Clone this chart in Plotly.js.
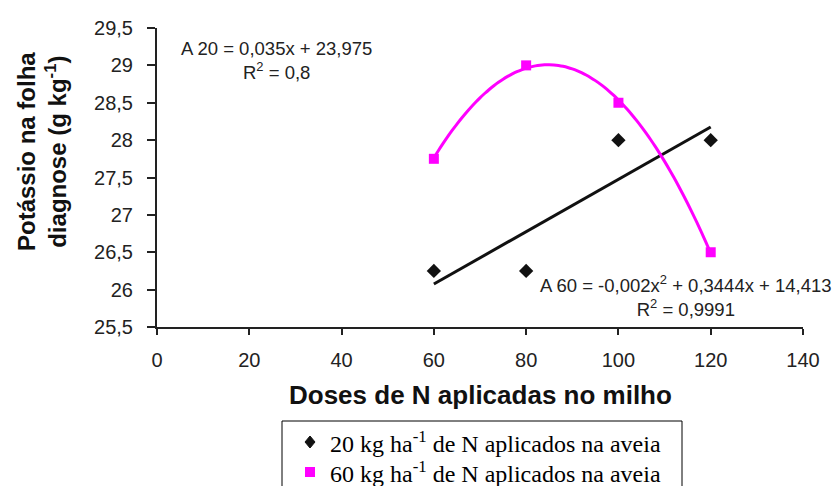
<!DOCTYPE html>
<html>
<head>
<meta charset="utf-8">
<script src="https://cdn.plot.ly/plotly-3.0.1.min.js"></script>
<style>
  html, body { margin: 0; padding: 0; background: #fff; }
  #chart { width: 836px; height: 486px; }
</style>
</head>
<body>
<div id="chart"></div>
<script>
// Doses of N applied to the maize (kg/ha) and leaf potassium (g/kg)
const doses = [60, 80, 100, 120];
const potassio20 = [26.25, 26.25, 28, 28];
const potassio60 = [27.75, 29, 28.5, 26.5];

const xTickVals = [0, 20, 40, 60, 80, 100, 120, 140];
const xTickText = ['0', '20', '40', '60', '80', '100', '120', '140'];
const yTickVals = [25.5, 26, 26.5, 27, 27.5, 28, 28.5, 29, 29.5];
const yTickText = ['25,5', '26', '26,5', '27', '27,5', '28', '28,5', '29', '29,5'];

const legend20 = '20 kg ha<sup>-1</sup> de N aplicados na aveia';
const legend60 = '60 kg ha<sup>-1</sup> de N aplicados na aveia';
const eq20 = 'A 20 = 0,035x + 23,975<br>R<sup>2</sup> = 0,8';
const eq60 = 'A 60 = -0,002x<sup>2</sup> + 0,3444x + 14,413<br>R<sup>2</sup> = 0,9991';

// Least-squares polynomial fit (normal equations, Gaussian elimination)
function polyfit(xs, ys, degree) {
  const n = degree + 1;
  const A = [];
  for (let i = 0; i < n; i++) {
    A.push(new Array(n + 1).fill(0));
    for (let j = 0; j < n; j++) {
      A[i][j] = xs.reduce((s, x) => s + Math.pow(x, i + j), 0);
    }
    A[i][n] = xs.reduce((s, x, k) => s + Math.pow(x, i) * ys[k], 0);
  }
  for (let c = 0; c < n; c++) {
    let p = c;
    for (let r = c + 1; r < n; r++) if (Math.abs(A[r][c]) > Math.abs(A[p][c])) p = r;
    [A[c], A[p]] = [A[p], A[c]];
    for (let r = 0; r < n; r++) {
      if (r === c) continue;
      const f = A[r][c] / A[c][c];
      for (let k = c; k <= n; k++) A[r][k] -= f * A[c][k];
    }
  }
  return A.map((row, i) => row[n] / row[i]);
}

function trend(xs, ys, degree) {
  const coef = polyfit(xs, ys, degree);
  const lo = Math.min(...xs), hi = Math.max(...xs);
  const tx = [], ty = [];
  for (let x = lo; x <= hi; x += 1) {
    tx.push(x);
    ty.push(coef.reduce((s, c, i) => s + c * Math.pow(x, i), 0));
  }
  return { x: tx, y: ty };
}

const fit20 = trend(doses, potassio20, 1);
const fit60 = trend(doses, potassio60, 2);

const magenta = '#ff00ff';
const ink = '#111111';

// Plot frame in pixels
const W = 836, H = 486;
const M = { l: 157, r: 33, t: 28, b: 159 };
const plotW = W - M.l - M.r, plotH = H - M.t - M.b;
const px = (x) => (x - M.l) / plotW;          // pixel column -> paper x
const py = (y) => (H - M.b - y) / plotH;      // pixel row -> paper y

const traces = [
  { x: fit20.x, y: fit20.y, mode: 'lines', line: { color: ink, width: 3 },
    showlegend: false, hoverinfo: 'skip' },
  { x: fit60.x, y: fit60.y, mode: 'lines', line: { color: magenta, width: 3, shape: 'spline' },
    showlegend: false, hoverinfo: 'skip' },
  { x: doses, y: potassio20, mode: 'markers', name: legend20, showlegend: false,
    marker: { symbol: 'diamond', size: 11, color: ink } },
  { x: doses, y: potassio60, mode: 'markers', name: legend60, showlegend: false,
    marker: { symbol: 'square', size: 10, color: magenta } }
];

const axisCommon = {
  showgrid: false, zeroline: false, showline: true,
  linecolor: '#222', linewidth: 2, ticks: 'outside',
  tickcolor: '#222', tickwidth: 2,
  tickfont: { family: 'Liberation Sans, Arial, sans-serif', size: 20, color: '#222' }
};

// Legend box sits below the axis title and runs past the bottom edge
const legBox = { x0: 282, x1: 682, y0: 421, y1: 520 };
const legRows = [442, 472];
const legSwatchX = 310, legTextX = 328;

const shapes = [
  { type: 'rect', xref: 'paper', yref: 'paper',
    x0: px(legBox.x0), x1: px(legBox.x1), y0: py(legBox.y0), y1: py(legBox.y1),
    line: { color: '#000', width: 1 }, fillcolor: '#fff' },
  { type: 'path', xref: 'paper', yref: 'paper',
    path: `M ${px(legSwatchX)},${py(legRows[0] - 6)} L ${px(legSwatchX + 5)},${py(legRows[0])} ` +
          `L ${px(legSwatchX)},${py(legRows[0] + 6)} L ${px(legSwatchX - 5)},${py(legRows[0])} Z`,
    line: { color: ink, width: 1 }, fillcolor: ink },
  { type: 'rect', xref: 'paper', yref: 'paper',
    x0: px(legSwatchX - 5), x1: px(legSwatchX + 5), y0: py(legRows[1] - 5), y1: py(legRows[1] + 5),
    line: { color: magenta, width: 0 }, fillcolor: magenta }
];

const legendFont = { family: 'Liberation Serif, Times New Roman, serif', size: 24, color: '#000' };

const layout = {
  width: W, height: H,
  margin: M,
  paper_bgcolor: '#fff', plot_bgcolor: '#fff',
  showlegend: false,
  xaxis: Object.assign({}, axisCommon, {
    range: [0, 140], tickmode: 'array', tickvals: xTickVals, ticktext: xTickText,
    ticklen: 6, ticklabelstandoff: 8
  }),
  yaxis: Object.assign({}, axisCommon, {
    range: [25.5, 29.5], tickmode: 'array', tickvals: yTickVals, ticktext: yTickText,
    ticklen: 8, ticklabelstandoff: 10
  }),
  shapes: shapes,
  annotations: [
    { xref: 'paper', yref: 'paper', x: px(42), y: py(152), xanchor: 'center', yanchor: 'middle',
      textangle: -90, showarrow: false,
      text: 'Potássio na folha<br>diagnose (g kg<sup>-1</sup>)',
      font: { family: 'Liberation Sans, Arial, sans-serif', size: 24, weight: 'bold', color: '#111' } },
    { xref: 'paper', yref: 'paper', x: 0.5, y: py(395), xanchor: 'center', yanchor: 'middle',
      showarrow: false, text: 'Doses de N aplicadas no milho',
      font: { family: 'Liberation Sans, Arial, sans-serif', size: 26, weight: 'bold', color: '#111' } },
    { xref: 'x', yref: 'y', x: 26, y: 29.07, xanchor: 'center', yanchor: 'middle',
      showarrow: false, text: eq20,
      font: { family: 'Liberation Sans, Arial, sans-serif', size: 18.5, color: '#222' } },
    { xref: 'x', yref: 'y', x: 114.6, y: 25.91, xanchor: 'center', yanchor: 'middle',
      showarrow: false, text: eq60,
      font: { family: 'Liberation Sans, Arial, sans-serif', size: 18.5, color: '#222' } },
    { xref: 'paper', yref: 'paper', x: px(legTextX), y: py(legRows[0]), xanchor: 'left', yanchor: 'middle',
      showarrow: false, text: legend20, font: legendFont },
    { xref: 'paper', yref: 'paper', x: px(legTextX), y: py(legRows[1]), xanchor: 'left', yanchor: 'middle',
      showarrow: false, text: legend60, font: legendFont }
  ]
};

Plotly.newPlot('chart', traces, layout, { staticPlot: true, displayModeBar: false });
</script>
</body>
</html>
